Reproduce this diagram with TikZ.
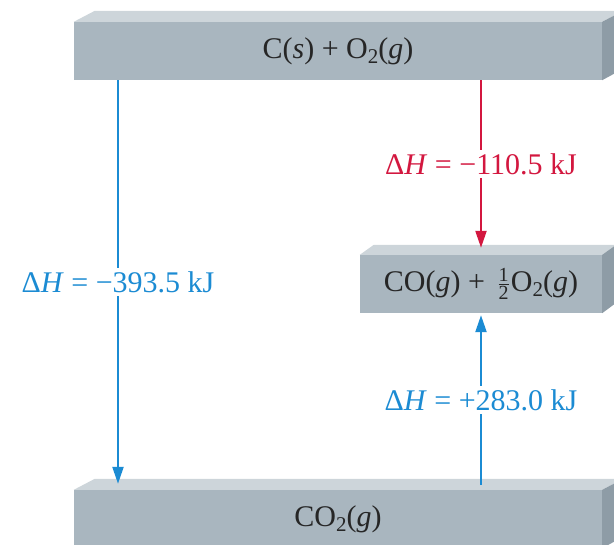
\documentclass[tikz,border=0pt]{standalone}
\usepackage{amsmath}
\usepackage{fontspec}
\setmainfont{Liberation Serif}
\usepackage{xcolor}
\usepackage{tikz}
\usetikzlibrary{arrows.meta, positioning, calc}

\definecolor{boxfront}{HTML}{A9B6BF}
\definecolor{boxtop}{HTML}{CDD5DA}
\definecolor{boxside}{HTML}{8E9CA6}
\definecolor{dhblue}{HTML}{1B8BD3}
\definecolor{dhred}{HTML}{D3173F}

\newcommand{\chsub}[1]{\raisebox{-0.4ex}{\fontsize{21}{21}\selectfont #1}}
\newcommand{\fracdigit}[1]{\text{\fontsize{20}{20}\selectfont #1}}
\newcommand{\dH}{Δ\textit{H}}

\begin{document}
\begin{tikzpicture}[x=1pt, y=-1pt,
    front/.style={fill=boxfront, text=black!85, inner sep=0pt, font=\fontsize{30}{34}\selectfont},
    topface/.style={fill=boxtop},
    sideface/.style={fill=boxside},
    flow/.style={line width=2.2pt, -{Triangle[length=17pt,width=11pt]}},
    dh/.style={fill=white, inner sep=3pt, font=\fontsize{30}{34}\selectfont}]
      \useasboundingbox (0,0) rectangle (614,545);
      \clip (0,0) rectangle (614,545);

      % enthalpy levels
      \node[front, minimum width=528pt, minimum height=58pt] (react) at (338,51) {C(\textit{s}) + O\chsub{2}(\textit{g})};
      \node[front, minimum width=242pt, minimum height=58pt] (mid) at (481,284) {CO(\textit{g}) + \,$\frac{\fracdigit{1}}{\fracdigit{2}}$\kern1pt O\chsub{2}(\textit{g})};
      \node[front, minimum width=528pt, minimum height=58pt] (prod) at (338,519) {CO\chsub{2}(\textit{g})};

      \fill[topface] (react.north west) -- ++(21,-11) -- ($(react.north east)+(21,-11)$) -- (react.north east) -- cycle;
      \fill[sideface] (react.north east) -- ++(21,-11) -- ++(0,58) -- (react.south east) -- cycle;
      \fill[topface] (mid.north west) -- ++(14,-10) -- ($(mid.north east)+(14,-10)$) -- (mid.north east) -- cycle;
      \fill[sideface] (mid.north east) -- ++(14,-10) -- ++(0,58) -- (mid.south east) -- cycle;
      \fill[topface] (prod.north west) -- ++(21,-11) -- ($(prod.north east)+(21,-11)$) -- (prod.north east) -- cycle;
      \fill[sideface] (prod.north east) -- ++(21,-11) -- ++(0,58) -- (prod.south east) -- cycle;

      % steps
      \coordinate (direct) at (118,0);
      \draw[flow, dhblue] (react.south -| direct) -- node[dh] {\dH{} = −393.5 kJ} ($(prod.north -| direct)+(0,-6)$);
      \draw[flow, dhred] (react.south -| mid.north) -- node[dh] {\dH{} = −110.5 kJ} ($(mid.north)+(0,-7)$);
      \draw[flow, dhblue] ($(prod.north -| mid.south)+(0,-5)$) -- node[dh] {\dH{} = +283.0 kJ} ($(mid.south)+(0,2)$);
\end{tikzpicture}
\end{document}
